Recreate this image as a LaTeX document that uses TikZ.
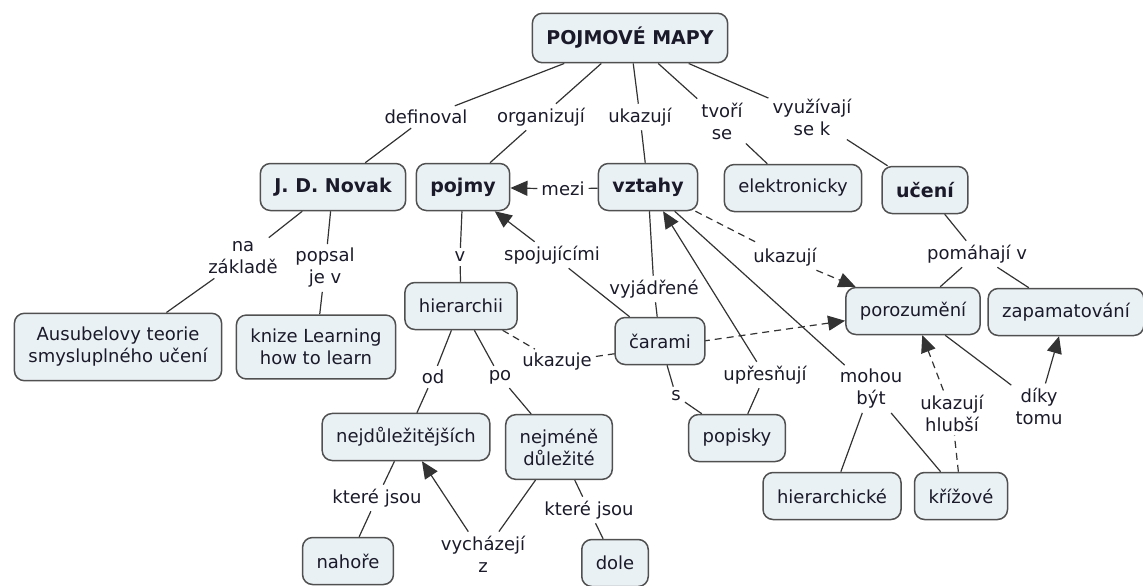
\documentclass[tikz,border=0pt]{standalone}
\usepackage{fontspec}
\setmainfont{DejaVu Sans}
\usetikzlibrary{arrows.meta}
\pgfdeclarelayer{background}
\pgfsetlayers{background,main}
\definecolor{boxfill}{HTML}{EAF1F4}
\definecolor{boxline}{HTML}{505050}
\definecolor{linkcol}{HTML}{333333}
\definecolor{txt}{HTML}{1A1A2A}

\begin{document}
\begin{tikzpicture}[x=1pt,y=-1pt,
  concept/.style={draw=boxline, fill=boxfill, line width=1.5pt, rounded corners=10pt,
    inner xsep=14pt, inner ysep=14pt, minimum height=47pt, align=center,
    font=\fontsize{18}{22}\selectfont, text=txt},
  key/.style={concept, font=\fontsize{19}{22}\selectfont\bfseries},
  phrase/.style={inner sep=4pt, align=center, font=\fontsize{18}{22}\selectfont, text=txt},
  link/.style={draw=linkcol, line width=1.2pt},
  tolink/.style={link, -{Triangle[length=17pt,width=15pt]}},
  dlink/.style={link, dash pattern=on 7pt off 5pt},
  dtolink/.style={dlink, -{Triangle[length=17pt,width=15pt]}}
]
\useasboundingbox (0,0) rectangle (1143,586);

% concepts
\node[key] (pm) at (630,38) {POJMOVÉ MAPY};
\node[key] (novak) at (333,187) {J. D. Novak};
\node[key] (pojmy) at (463,187) {pojmy};
\node[key] (vztahy) at (648,187) {vztahy};
\node[concept] (elek) at (793,188) {elektronicky};
\node[key] (uceni) at (925,190) {učení};
\node[concept] (ausubel) at (118,347) {Ausubelovy teorie\\smysluplného učení};
\node[concept] (kniha) at (316,347) {knize Learning\\how to learn};
\node[concept] (hier) at (461,306) {hierarchii};
\node[concept] (cary) at (660,341) {čarami};
\node[concept] (poroz) at (913,311) {porozumění};
\node[concept] (zapam) at (1066,312) {zapamatování};
\node[concept] (nejdul) at (406,437) {nejdůležitějších};
\node[concept] (nejmene) at (559,447) {nejméně\\důležité};
\node[concept] (nahore) at (348,561) {nahoře};
\node[concept] (dole) at (615,563) {dole};
\node[concept] (popisky) at (737,438) {popisky};
\node[concept] (hierch) at (832,496) {hierarchické};
\node[concept] (kriz) at (961,496) {křížové};

% linking phrases
\node[phrase] (p-def) at (426,117) {definoval};
\node[phrase] (p-org) at (541,117) {organizují};
\node[phrase] (p-uk1) at (640,117) {ukazují};
\node[phrase] (p-tvori) at (722,121) {tvoří\\se};
\node[phrase] (p-vyuz) at (812,117) {využívají\\se k};
\node[phrase] (p-mezi) at (563,189) {mezi};
\node[phrase] (p-nazakl) at (243,258) {na\\základě};
\node[phrase] (p-popsal) at (325,268) {popsal\\je v};
\node[phrase] (p-v) at (460,257) {v};
\node[phrase] (p-spoj) at (552,255) {spojujícími};
\node[phrase] (p-vyj) at (654,289) {vyjádřené};
\node[phrase] (p-uk2) at (785,257) {ukazují};
\node[phrase] (p-pomah) at (977,254) {pomáhají v};
\node[phrase] (p-ukazuje) at (557,362) {ukazuje};
\node[phrase] (p-od) at (433,377) {od};
\node[phrase] (p-po) at (500,377) {po};
\node[phrase] (p-s) at (676,396) {s};
\node[phrase] (p-upr) at (765,375) {upřesňují};
\node[phrase] (p-mohou) at (871,389) {mohou\\být};
\node[phrase] (p-hlub) at (952,413) {ukazují\\hlubší};
\node[phrase] (p-diky) at (1039,406) {díky\\tomu};
\node[phrase] (p-kt1) at (377,498) {které jsou};
\node[phrase] (p-vych) at (483,554) {vycházejí\\z};
\node[phrase] (p-kt2) at (589,510) {které jsou};

% connectors, kept under the boxes
\begin{pgfonlayer}{background}
\draw[link] (pm) -- (p-def);      \draw[link] (p-def) -- (novak);
\draw[link] (pm) -- (p-org);      \draw[link] (p-org) -- (pojmy);
\draw[link] (pm) -- (p-uk1);      \draw[link] (p-uk1) -- (vztahy);
\draw[link] (pm) -- (p-tvori);    \draw[link] (p-tvori) -- (elek);
\draw[link] (pm) -- (p-vyuz);     \draw[link] (p-vyuz) -- (uceni);
\draw[link] (novak) -- (p-nazakl); \draw[link] (p-nazakl) -- (ausubel);
\draw[link] (novak) -- (p-popsal); \draw[link] (p-popsal) -- (kniha);
\draw[link] (vztahy) -- (p-mezi); \draw[tolink] (p-mezi) -- (pojmy);
\draw[link] (pojmy) -- (p-v);     \draw[link] (p-v) -- (hier);
\draw[link] (cary) -- (p-spoj);   \draw[tolink] (p-spoj) -- (pojmy);
\draw[link] (vztahy) -- (p-vyj);  \draw[link] (p-vyj) -- (cary);
\draw[dlink] (vztahy) -- (p-uk2); \draw[dtolink] (p-uk2) -- (poroz);
\draw[link] (uceni) -- (p-pomah); \draw[link] (p-pomah) -- (poroz);
\draw[link] (p-pomah) -- (zapam);
\draw[dlink] (hier) -- (p-ukazuje); \draw[dtolink] (p-ukazuje) -- (poroz);
\draw[link] (hier) -- (p-od);     \draw[link] (p-od) -- (nejdul);
\draw[link] (hier) -- (p-po);     \draw[link] (p-po) -- (nejmene);
\draw[link] (nejdul) -- (p-kt1);  \draw[link] (p-kt1) -- (nahore);
\draw[link] (nejmene) -- (p-vych); \draw[tolink] (p-vych) -- (nejdul);
\draw[link] (nejmene) -- (p-kt2); \draw[link] (p-kt2) -- (dole);
\draw[link] (cary) -- (p-s);      \draw[link] (p-s) -- (popisky);
\draw[link] (popisky) -- (p-upr); \draw[tolink] (p-upr) -- (vztahy);
\draw[link] (vztahy) -- (p-mohou); \draw[link] (p-mohou) -- (hierch);
\draw[link] (p-mohou) -- (kriz);
\draw[dlink] (kriz) -- (p-hlub);  \draw[dtolink] (p-hlub) -- (poroz);
\draw[link] (poroz) -- (p-diky);  \draw[tolink] (p-diky) -- (zapam);
\end{pgfonlayer}
\end{tikzpicture}
\end{document}
